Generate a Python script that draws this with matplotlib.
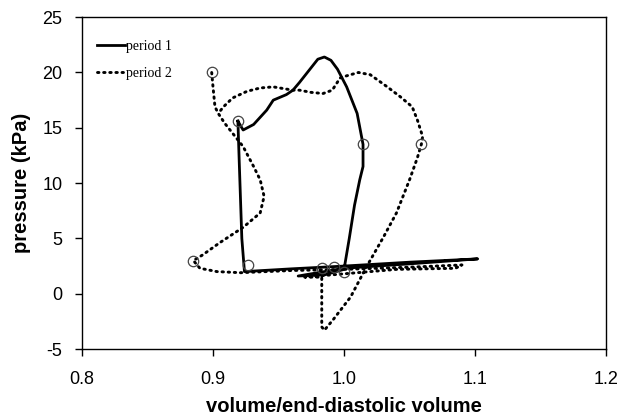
import matplotlib
matplotlib.use("Agg")
import matplotlib.pyplot as plt

plt.rcParams['axes.unicode_minus'] = False

p1_x = [0.919, 0.920, 0.921, 0.922, 0.924, 0.96, 1.00, 1.05, 1.102, 1.05, 1.00, 0.965, 0.985,
        1.000, 1.004, 1.008, 1.012, 1.0145, 1.0145, 1.010, 1.002, 0.995, 0.990, 0.985, 0.980, 0.976,
        0.970, 0.966, 0.961, 0.956, 0.946, 0.941, 0.931, 0.923, 0.919]
p1_y = [15.6, 12.0, 8.5, 5.0, 2.0, 2.25, 2.5, 2.85, 3.15, 2.7, 2.3, 1.6, 1.7,
        2.2, 5.0, 8.0, 10.3, 11.5, 13.5, 16.3, 18.7, 20.3, 21.1, 21.4, 21.2, 20.6,
        19.7, 19.1, 18.4, 18.0, 17.5, 16.6, 15.3, 14.8, 15.6]
p1_mx = [0.919, 0.927, 1.0145, 0.983, 0.992, 1.000]
p1_my = [15.6, 2.6, 13.5, 2.3, 2.4, 2.0]

p2_x = [0.899, 0.900, 0.9015, 0.904, 0.909, 0.915, 0.923, 0.931, 0.936, 0.939, 0.936, 0.923,
        0.905, 0.892, 0.885, 0.890, 0.903, 0.921, 0.96, 1.00, 1.05, 1.09, 1.085, 1.04, 1.00,
        0.97, 0.983, 0.983, 0.983, 0.985, 0.992, 1.005, 1.017, 1.030, 1.040, 1.050, 1.056,
        1.059, 1.060, 1.056, 1.052, 1.043, 1.033, 1.020, 1.011, 1.002, 0.997, 0.991, 0.984,
        0.975, 0.966, 0.961, 0.946, 0.936, 0.926, 0.915, 0.908, 0.904]
p2_y = [20.0, 18.7, 16.9, 16.3, 15.4, 14.5, 13.3, 11.5, 10.3, 8.8, 7.3, 6.0,
        4.6, 3.5, 3.0, 2.3, 2.0, 1.9, 2.1, 2.2, 2.4, 2.6, 2.3, 2.2, 1.8,
        1.5, 1.5, -0.5, -3.0, -3.3, -2.3, -0.3, 2.4, 5.1, 7.3, 10.3, 12.3,
        13.5, 14.2, 15.7, 16.9, 17.8, 18.7, 19.8, 20.0, 19.7, 19.5, 18.4, 18.1,
        18.2, 18.4, 18.4, 18.7, 18.6, 18.3, 17.7, 16.9, 16.3]
p2_mx = [0.899, 1.059, 0.885]
p2_my = [20.0, 13.5, 3.0]

x_ticks = [0.8, 0.9, 1.0, 1.1, 1.2]
x_tick_labels = ['0.8', '0.9', '1.0', '1.1', '1.2']
y_ticks = [-5, 0, 5, 10, 15, 20, 25]

fig = plt.figure(figsize=(6.21, 4.19), dpi=100)
ax = fig.add_axes([0.132, 0.167, 0.844, 0.792])

ax.plot(p1_x, p1_y, color='black', lw=2.0, solid_joinstyle='round', label='period 1')
ax.plot(p2_x, p2_y, color='black', lw=2.1, linestyle=(0, (0.5, 1.6)), dash_capstyle='round',
        label='period 2')
ax.plot(p1_mx, p1_my, 'o', ms=7.5, mfc='none', mec='#444444', mew=0.9)
ax.plot(p2_mx, p2_my, 'o', ms=7.5, mfc='none', mec='#444444', mew=0.9)

ax.set_xlim(0.8, 1.2)
ax.set_ylim(-5, 25)
ax.set_xticks(x_ticks)
ax.set_xticklabels(x_tick_labels)
ax.set_yticks(y_ticks)
ax.tick_params(direction='out', length=5, width=1, labelsize=13, top=False, right=False)
ax.tick_params(axis='x', pad=11)
ax.tick_params(axis='y', pad=9)
for lab in ax.get_xticklabels() + ax.get_yticklabels():
    lab.set_family('Liberation Sans')
for s in ax.spines.values():
    s.set_linewidth(1.0)

ax.set_xlabel('volume/end-diastolic volume', fontsize=14.5, fontweight='bold',
              family='Liberation Sans', labelpad=6)
ax.set_ylabel('pressure (kPa)', fontsize=14.5, fontweight='bold',
              family='Liberation Sans', labelpad=8)

leg = ax.legend(loc='upper left', frameon=False, prop={'family': 'Liberation Serif', 'size': 10},
                handlelength=2.0, handletextpad=0.1, labelspacing=1.0,
                bbox_to_anchor=(0.005, 0.97))

fig.savefig('out.png', dpi=100)
